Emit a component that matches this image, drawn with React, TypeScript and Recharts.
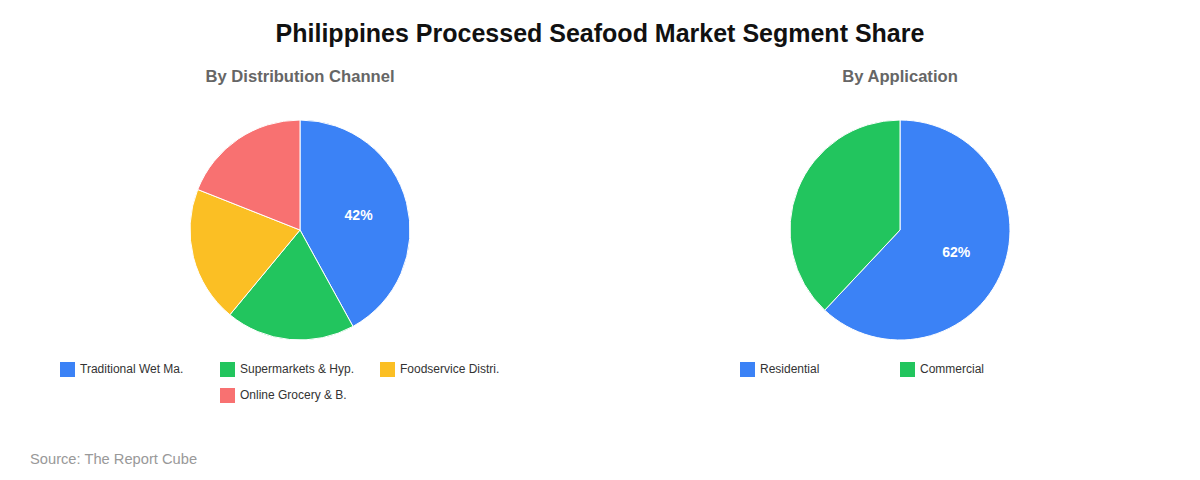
import React from "react";
import { PieChart, Pie, Cell } from "recharts";

const channelNames = ["Traditional Wet Ma.", "Supermarkets & Hyp.", "Foodservice Distri.", "Online Grocery & B."];
const channelValues = [42, 19, 20, 19];
const channelColors = ["#3b82f6", "#22c55e", "#fbbf24", "#f87171"];

const applicationNames = ["Residential", "Commercial"];
const applicationValues = [62, 38];
const applicationColors = ["#3b82f6", "#22c55e"];

const FONT = "Arial, 'Liberation Sans', Helvetica, sans-serif";

// only the big slices carry a % label
const renderLabel = (props: any) => {
  const { cx, cy, midAngle, outerRadius, percent } = props;
  if (percent < 0.4) return null;
  const RAD = Math.PI / 180;
  const r = outerRadius * 0.55;
  const x = cx + r * Math.cos(-midAngle * RAD);
  const y = cy + r * Math.sin(-midAngle * RAD);
  return (
    <text x={x} y={y} fill="#fff" textAnchor="middle" dominantBaseline="central"
      style={{ fontFamily: FONT, fontSize: 14, fontWeight: 700 }}>
      {`${Math.round(percent * 100)}%`}
    </text>
  );
};

const LegendBox = ({ names, colors }: { names: string[]; colors: string[] }) => (
  <div style={{ display: "flex", flexWrap: "wrap", justifyContent: "center", width: 480, margin: "0 auto" }}>
    {names.map((n, i) => (
      <div key={n} style={{ width: 160, height: 26, display: "flex", alignItems: "center", boxSizing: "border-box" }}>
        <span style={{ width: 15, height: 15, background: colors[i], display: "inline-block", marginRight: 5 }} />
        <span style={{ fontFamily: FONT, fontSize: 12, color: "#333" }}>{n}</span>
      </div>
    ))}
  </div>
);

const SubPie = ({ title, names, values, colors, left }: any) => {
  const data = names.map((n: string, i: number) => ({ name: n, value: values[i] }));
  return (
    <div style={{ position: "absolute", left, top: 0, width: 600, height: 440 }}>
      <div style={{ position: "absolute", top: 67, width: 600, textAlign: "center", fontFamily: FONT, fontSize: 16.6, fontWeight: 700, color: "#666" }}>
        {title}
      </div>
      <div style={{ position: "absolute", top: 0, left: 0 }}>
        <PieChart width={600} height={350} margin={{ top: 0, right: 0, bottom: 0, left: 0 }}>
          <Pie
            data={data}
            dataKey="value"
            nameKey="name"
            cx={300}
            cy={230}
            outerRadius={110}
            startAngle={90}
            endAngle={-270}
            stroke="#fff"
            strokeWidth={1}
            label={renderLabel}
            labelLine={false}
            isAnimationActive={false}
          >
            {data.map((_: any, i: number) => (
              <Cell key={`c-${i}`} fill={colors[i]} />
            ))}
          </Pie>
        </PieChart>
      </div>
      <div style={{ position: "absolute", top: 356, left: 0, width: 600 }}>
        <LegendBox names={names} colors={colors} />
      </div>
    </div>
  );
};

export default function App() {
  return (
    <div style={{ position: "absolute", left: 0, top: 0, width: 1200, height: 480, background: "#fff", overflow: "hidden" }}>
      <div style={{ position: "absolute", top: 19, width: 1200, textAlign: "center", fontFamily: FONT, fontSize: 25, fontWeight: 700, color: "#111" }}>
        Philippines Processed Seafood Market Segment Share
      </div>
      <SubPie title="By Distribution Channel" names={channelNames} values={channelValues} colors={channelColors} left={0} />
      <SubPie title="By Application" names={applicationNames} values={applicationValues} colors={applicationColors} left={600} />
      <div style={{ position: "absolute", left: 30, top: 451, fontFamily: FONT, fontSize: 14.7, color: "#999" }}>
        Source: The Report Cube
      </div>
    </div>
  );
}
